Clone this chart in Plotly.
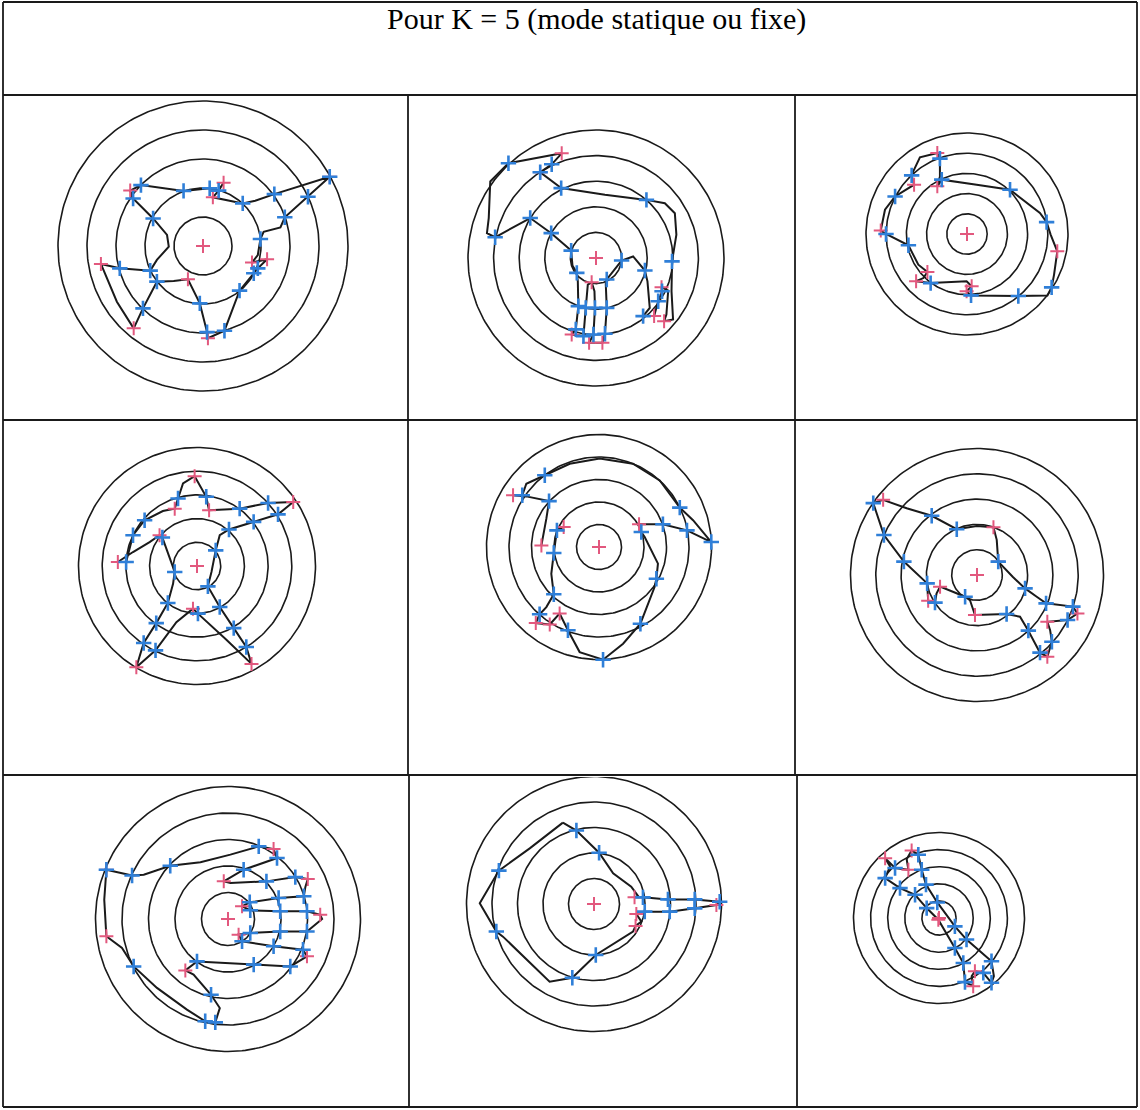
import numpy as np
import plotly.graph_objects as go

W, H = 1140, 1110
TITLE = "Pour K = 5 (mode statique ou fixe)"
RINGS = [1, 2, 3, 4, 5]
CENTRE_X = [0.0]
CENTRE_Y = [0.0]

# ---------------- traced contours (ring units, y up) ----------------
P1_X = [-2.51, -2.14, -0.67, 0.23, 0.54, 0.71, 0.48, 0.34, 1.37, 1.80, 2.46, 4.37, 3.62, 2.82, 2.67, 2.09, 1.98, 1.89,
        1.69, 2.21, 1.89, 1.75, 1.26, 0.74, 0.17, 0.14, -0.11, -0.52, -1.01, -1.59, -2.07, -2.39, -2.97, -3.52, -2.87,
        -1.82, -1.59, -1.18, -1.24, -1.72, -2.41, -2.51]
P1_Y = [1.91, 2.10, 1.90, 1.99, 1.91, 2.18, 1.84, 1.68, 1.47, 1.56, 1.79, 2.39, 1.70, 0.99, 0.64, 0.49, 0.24, -0.31,
        -0.57, -0.46, -0.77, -0.94, -1.54, -2.92, -3.18, -2.97, -1.98, -1.15, -1.21, -1.23, -2.15, -2.84, -1.92, -0.62,
        -0.77, -0.85, -0.48, -0.02, 0.38, 0.95, 1.64, 1.91]
P1_BLUE = [1, 2, 3, 4, 8, 10, 11, 12, 13, 16, 20, 21, 22, 23, 25, 26, 29, 30, 34, 35, 39, 40]
P1_RED = [0, 5, 7, 11, 18, 19, 24, 27, 31, 33]

P2_X = [-1.34, -3.42, -4.13, -4.19, -4.26, -3.94, -2.57, -1.75, -0.97, -0.92, -0.75, -0.71, -0.69, -0.79, -0.95, -0.49,
        -0.40, -0.32, -0.17, -0.06, -0.04, -0.10, -0.27, 0.25, 0.35, 0.42, 0.38, 0.42, 1.00, 1.45, 1.91, 2.01, 2.10, 1.84,
        2.27, 2.43, 2.58, 2.56, 2.82, 2.75, 2.66, 3.01, 2.95, 2.97, 3.14, 3.08, 2.69, 1.97, 0.35, -1.36, -2.18, -1.73,
        -1.34]
P2_Y = [4.09, 3.70, 2.99, 1.56, 0.97, 0.81, 1.56, 0.97, 0.29, -0.29, -0.58, -0.91, -1.88, -2.79, -2.99, -3.05, -1.95,
        -1.04, -0.95, -1.30, -1.95, -2.99, -3.31, -3.31, -2.96, -1.95, -0.97, -0.84, -0.10, 0.06, -0.49, -0.91, -1.95,
        -2.27, -2.27, -1.69, -1.30, -1.14, -1.27, -2.21, -2.47, -2.40, -1.30, -0.13, 0.91, 1.75, 2.14, 2.27, 2.47, 2.73,
        3.35, 3.66, 4.09]
P2_BLUE = [1, 5, 6, 7, 8, 10, 12, 13, 15, 16, 20, 21, 24, 25, 27, 28, 30, 33, 35, 36, 43, 47, 49, 50, 51]
P2_RED = [0, 14, 18, 22, 23, 33, 34, 37, 40, 50]

P3_X = [-1.47, -2.33, -2.66, -2.74, -2.62, -3.56, -4.06, -4.27, -4.01, -2.90, -2.41, -1.96, -2.16, -2.52, -1.80, -0.02,
        0.23, -0.02, 0.20, 2.54, 3.98, 4.19, 4.31, 4.47, 4.14, 3.94, 3.61, 2.13, 0.48, -1.25, -1.47, -1.34, -1.34, -1.47]
P3_Y = [4.01, 3.80, 3.10, 2.90, 2.44, 1.86, 1.20, 0.17, 0.00, -0.56, -1.52, -1.88, -2.18, -2.34, -2.43, -2.34, -2.59,
        -2.84, -3.04, -3.07, -3.04, -2.64, -2.01, -0.86, -0.03, 0.59, 1.04, 2.19, 2.44, 2.69, 2.36, 2.85, 3.73, 4.01]
P3_BLUE = [3, 5, 8, 9, 14, 18, 19, 21, 25, 27, 29, 32]
P3_RED = [0, 4, 7, 11, 13, 16, 17, 23, 30]

P4_X = [-0.10, -0.59, -0.80, -0.94, -1.44, -2.21, -2.70, -2.99, -3.34, -2.70, -2.00, -1.58, -1.46, -1.18, -0.94, -1.01,
        -1.23, -1.72, -2.25, -2.56, -1.75, -0.87, -0.17, 0.04, 1.24, 2.30, 2.08, 1.55, 0.96, 0.46, 0.61, 0.79, 0.96, 1.35,
        2.39, 3.42, 4.06, 3.00, 1.80, 0.51, 0.39, -0.10]
P4_Y = [3.79, 3.48, 2.85, 2.42, 2.32, 1.93, 1.30, 0.17, 0.17, 0.59, 1.01, 1.30, 1.20, 0.45, -0.25, -0.75, -1.56, -2.41,
        -3.25, -4.27, -3.56, -2.37, -1.80, -2.01, -3.11, -4.13, -3.42, -2.62, -1.73, -0.86, -0.25, 0.66, 1.30, 1.54, 1.86,
        2.18, 2.70, 2.66, 2.42, 2.35, 2.92, 3.79]
P4_BLUE = [2, 5, 6, 7, 12, 14, 16, 17, 18, 20, 23, 26, 27, 28, 29, 31, 33, 34, 35, 37, 38, 40]
P4_RED = [0, 3, 8, 11, 19, 22, 25, 36, 39]

P5_X = [-1.57, -1.87, -2.01, -2.12, -2.01, -2.34, -2.64, -2.81, -2.19, -1.75, -1.38, -0.86, 0.18, 1.07, 1.84, 2.47, 2.55,
        2.62, 2.03, 1.88, 1.78, 2.84, 3.91, 4.99, 4.18, 3.59, 2.70, 1.51, 0.03, -1.30, -2.41, -3.23, -3.41, -3.82, -3.23,
        -2.22, -2.34, -2.56]
P5_Y = [0.89, 0.74, -0.27, -1.19, -2.10, -2.67, -2.99, -3.38, -3.44, -2.96, -3.70, -4.67, -5.01, -4.30, -3.41, -1.78,
        -1.41, -0.74, 0.44, 0.67, 1.01, 1.01, 0.74, 0.22, 1.19, 1.75, 2.96, 3.70, 3.93, 3.70, 3.19, 2.81, 2.30, 2.30, 2.25,
        2.04, 1.26, 0.07]
P5_BLUE = [1, 2, 4, 6, 10, 12, 14, 16, 19, 21, 22, 23, 25, 30, 32, 35]
P5_RED = [0, 7, 8, 9, 20, 33, 37]

P6_X = [-3.71, -2.78, -1.79, -0.80, -0.01, 0.65, 0.78, 0.84, 1.41, 1.90, 2.36, 2.73, 3.79, 3.97, 3.58, 2.78, 2.89, 2.96,
        2.78, 2.49, 2.03, 1.70, 1.17, -0.08, -0.28, -0.47, -1.46, -1.60, -1.66, -1.93, -1.97, -2.89, -3.68, -4.10, -3.71]
P6_Y = [2.97, 2.64, 2.34, 1.81, 1.94, 1.89, 1.39, 0.53, -0.07, -0.53, -0.86, -1.12, -1.25, -1.52, -1.78, -1.85, -2.18,
        -2.64, -3.23, -3.07, -2.20, -1.65, -1.54, -1.58, -0.99, -0.86, -0.46, -0.73, -1.09, -1.02, -0.33, 0.53, 1.58, 2.84,
        2.97]
P6_BLUE = [2, 3, 7, 9, 11, 12, 14, 17, 19, 20, 22, 25, 28, 30, 31, 32, 33]
P6_RED = [0, 5, 7, 13, 15, 18, 23, 26, 29]

P7_X = [-4.59, -3.62, -3.18, -2.18, -1.04, 0.09, 1.16, 1.72, 1.85, 0.59, -0.16, 0.09, 1.45, 2.54, 3.01, 2.92, 2.86, 1.91,
        0.82, 0.53, 0.84, 1.97, 2.98, 3.48, 3.55, 2.98, 1.97, 0.84, 0.40, 0.53, 1.72, 2.83, 2.98, 2.35, 0.97, -1.17, -1.61,
        -1.30, -0.64, -0.31, -0.48, -0.86, -1.55, -2.68, -3.56, -4.00, -4.59, -4.67, -4.59]
P7_Y = [1.86, 1.64, 1.67, 2.01, 2.14, 2.43, 2.74, 2.64, 2.30, 1.86, 1.42, 1.36, 1.42, 1.58, 1.51, 1.21, 0.86, 0.79, 0.63,
        0.48, 0.33, 0.29, 0.29, 0.16, 0.00, -0.47, -0.47, -0.53, -0.59, -0.84, -1.03, -1.16, -1.41, -1.79, -1.72, -1.60,
        -1.94, -2.10, -2.86, -3.36, -3.90, -3.86, -3.42, -2.60, -1.79, -1.09, -0.65, 0.73, 1.86]
P7_BLUE = [0, 1, 3, 6, 8, 9, 12, 13, 16, 17, 18, 20, 21, 22, 25, 26, 27, 29, 30, 31, 33, 34, 35, 38, 40, 41, 44]
P7_RED = [0, 7, 10, 14, 19, 23, 28, 32, 36, 46]

P8_X = [-1.22, -0.69, 0.20, 0.75, 1.46, 1.73, 1.59, 1.92, 2.90, 3.95, 4.93, 4.80, 3.95, 2.97, 1.99, 1.66, 1.86, 1.63,
        1.53, 0.88, 0.07, -0.85, -1.74, -3.57, -3.83, -4.48, -3.73, -2.52, -1.22]
P8_Y = [3.19, 2.88, 2.01, 1.20, 0.68, 0.31, 0.26, 0.26, 0.18, 0.18, 0.09, -0.04, -0.17, -0.30, -0.30, -0.39, -0.69, -0.86,
        -1.08, -1.48, -2.00, -2.89, -3.05, -1.28, -1.08, 0.03, 1.31, 2.18, 3.19]
P8_BLUE = [1, 2, 7, 8, 9, 10, 12, 13, 14, 20, 21, 24, 26]
P8_RED = [6, 11, 15, 17]

P9_X = [-3.15, -2.57, -1.79, -1.89, -1.60, -1.21, -1.01, -0.76, -0.10, 0.93, 1.61, 3.07, 3.21, 3.07, 2.59, 2.10, 1.91,
        2.00, 1.52, 1.42, 0.93, -0.04, -0.72, -1.40, -2.28, -3.15, -2.86, -3.15]
P9_Y = [3.50, 2.92, 2.82, 3.44, 3.95, 3.70, 2.82, 1.95, 0.91, -0.49, -1.26, -2.53, -3.40, -3.79, -3.21, -3.11, -3.40,
        -3.99, -3.75, -2.63, -1.75, -0.10, 0.58, 1.36, 1.75, 2.33, 3.02, 3.50]
P9_BLUE = [1, 5, 6, 7, 8, 9, 10, 11, 13, 14, 18, 19, 20, 22, 23, 24, 25]
P9_RED = [0, 2, 4, 15, 17, 21]

PANELS = [
    (P1_X, P1_Y, P1_BLUE, P1_RED), (P2_X, P2_Y, P2_BLUE, P2_RED), (P3_X, P3_Y, P3_BLUE, P3_RED),
    (P4_X, P4_Y, P4_BLUE, P4_RED), (P5_X, P5_Y, P5_BLUE, P5_RED), (P6_X, P6_Y, P6_BLUE, P6_RED),
    (P7_X, P7_Y, P7_BLUE, P7_RED), (P8_X, P8_Y, P8_BLUE, P8_RED), (P9_X, P9_Y, P9_BLUE, P9_RED),
]

# ---------------- page geometry (pixels) ----------------
LEFT, RIGHT, TOP, BOTTOM = 3, 1137, 2, 1107
ROW_LINES = [95, 420, 775, 1107]
COL_LINES = [[3, 408, 795, 1137], [3, 408, 795, 1137], [3, 409, 797, 1137]]
# centre (px) and ring spacing (px) of every target
GEOM = [(203, 246, 29.0), (596, 258, 25.6), (967, 234, 20.2),
        (197, 566, 23.7), (599, 547, 22.5), (977, 575, 25.3),
        (228, 919, 26.5), (594, 904, 25.5), (939, 918, 17.1)]

INK = "#1a1a1a"
BLUE = "#2f7fd8"
RED = "#e2587e"

fig = go.Figure()
theta = np.linspace(0, 2 * np.pi, 241)

for k, (px, py, pb, pr) in enumerate(PANELS):
    row, col = divmod(k, 3)
    cx, cy, u = GEOM[k]
    x0, x1 = COL_LINES[row][col], COL_LINES[row][col + 1]
    y0, y1 = ROW_LINES[row], ROW_LINES[row + 1]
    xa = "x" if k == 0 else f"x{k + 1}"
    ya = "y" if k == 0 else f"y{k + 1}"
    xn = "xaxis" if k == 0 else f"xaxis{k + 1}"
    yn = "yaxis" if k == 0 else f"yaxis{k + 1}"

    cxs, cys = [], []
    for r in RINGS:
        cxs += list(r * np.cos(theta)) + [None]
        cys += list(r * np.sin(theta)) + [None]
    fig.add_trace(go.Scatter(x=cxs, y=cys, mode="lines", xaxis=xa, yaxis=ya,
                             line=dict(color=INK, width=1.6), hoverinfo="skip"))
    fig.add_trace(go.Scatter(x=px, y=py, mode="lines", xaxis=xa, yaxis=ya,
                             line=dict(color=INK, width=2.0)))
    fig.add_trace(go.Scatter(x=[px[i] for i in pr] + CENTRE_X, y=[py[i] for i in pr] + CENTRE_Y,
                             mode="markers", xaxis=xa, yaxis=ya,
                             marker=dict(symbol="cross-thin", size=10, line=dict(color=RED, width=2.0))))
    fig.add_trace(go.Scatter(x=[px[i] for i in pb], y=[py[i] for i in pb],
                             mode="markers", xaxis=xa, yaxis=ya,
                             marker=dict(symbol="cross-thin", size=11, line=dict(color=BLUE, width=2.6))))

    fig.layout[xn] = dict(domain=[(x0 + 2) / W, (x1 - 2) / W],
                          range=[(x0 + 2 - cx) / u, (x1 - 2 - cx) / u],
                          visible=False, fixedrange=True, anchor=ya)
    fig.layout[yn] = dict(domain=[1 - (y1 - 2) / H, 1 - (y0 + 2) / H],
                          range=[(cy - y1 + 2) / u, (cy - y0 - 2) / u],
                          visible=False, fixedrange=True, anchor=xa)

shapes = []
def hline(y, xa, xb):
    shapes.append(dict(type="line", xref="paper", yref="paper", x0=xa / W, x1=xb / W,
                       y0=1 - y / H, y1=1 - y / H, line=dict(color=INK, width=1.8)))
def vline(x, ya_, yb):
    shapes.append(dict(type="line", xref="paper", yref="paper", x0=x / W, x1=x / W,
                       y0=1 - ya_ / H, y1=1 - yb / H, line=dict(color=INK, width=1.8)))

hline(TOP, LEFT, RIGHT)
hline(BOTTOM, LEFT, RIGHT)
for y in ROW_LINES[:-1]:
    hline(y, LEFT, RIGHT)
vline(LEFT, TOP, BOTTOM)
vline(RIGHT, TOP, BOTTOM)
for row in range(3):
    for x in COL_LINES[row][1:-1]:
        vline(x, ROW_LINES[row], ROW_LINES[row + 1])

fig.update_layout(
    width=W, height=H, margin=dict(l=0, r=0, t=0, b=0),
    paper_bgcolor="white", plot_bgcolor="white", showlegend=False,
    shapes=shapes,
    annotations=[dict(text=TITLE, xref="paper", yref="paper", x=596 / W, y=1 - 19 / H,
                      xanchor="center", yanchor="middle", showarrow=False,
                      font=dict(family="Liberation Serif", size=30, color="black"))],
)

fig.write_html("out.html", config={"displayModeBar": False},
               post_script="document.body.style.margin='0';document.body.style.overflow='hidden';")
